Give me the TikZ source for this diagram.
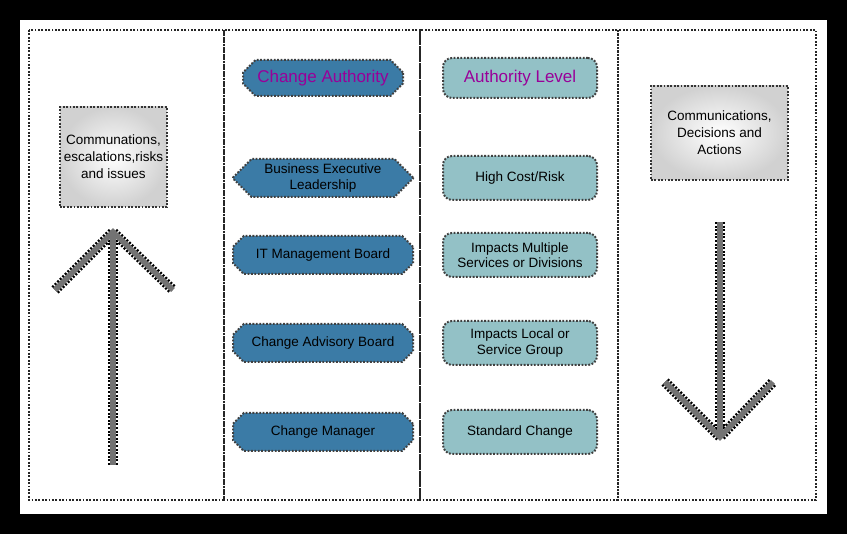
\documentclass[tikz,border=0pt]{standalone}
\usepackage{fontspec}
\setmainfont{Liberation Sans}
\usetikzlibrary{shapes.misc}
\definecolor{hexblue}{HTML}{3B7BA6}
\definecolor{teal2}{HTML}{93C1C6}
\begin{document}
\begin{tikzpicture}[x=1pt,y=-1pt,
  dots/.style={dash pattern=on 1.8pt off 1.6pt},
  col/.style={draw=black!85,line width=2.2pt,dots},
  hex/.style={chamfered rectangle,chamfered rectangle xsep=2cm,fill=hexblue,draw=black!75,line width=2pt,dots,minimum width=180pt,minimum height=38pt,inner sep=1pt,align=center,font=\fontsize{13.5}{15.5}\selectfont},
  lev/.style={rounded corners=9pt,fill=teal2,draw=black!75,line width=2pt,dots,minimum width=154pt,minimum height=44pt,align=center,font=\fontsize{13.5}{15.5}\selectfont},
  gbox/.style={inner color=white,outer color=black!18,draw=black!80,line width=2.6pt,dots,align=center,font=\fontsize{13.5}{17}\selectfont},
  arrbk/.style={line width=10pt,draw=black,dash pattern=on 2pt off 1.6pt},
  arrgr/.style={line width=5.5pt,draw=black!55,line join=miter}]
\fill[black] (0,0) rectangle (847,534);
\fill[white] (20,20) rectangle (827,514);
\draw[col] (29,30) rectangle (224,500);
\draw[col] (224,30) rectangle (420,500);
\draw[col] (420,30) rectangle (618,500);
\draw[col] (618,30) rectangle (816,500);
\node[hex,minimum width=160pt,minimum height=36pt,font=\fontsize{17}{19}\selectfont,text=violet!80!magenta] (ca) at (323,78) {Change Authority};
\node[hex] (be) at (323,178) {Business Executive\\Leadership};
\node[hex] (it) at (323,255) {IT Management Board};
\node[hex] (cab) at (323,343) {Change Advisory Board};
\node[hex] (cm) at (323,432) {Change Manager};
\node[lev,minimum height=40pt,font=\fontsize{17}{19}\selectfont,text=violet!80!magenta] (al) at (520,78) {Authority Level};
\node[lev] (hc) at (520,178) {High Cost/Risk};
\node[lev] (im) at (520,255) {Impacts Multiple\\Services or Divisions};
\node[lev] (il) at (520,343) {Impacts Local or\\Service Group};
\node[lev] (sc) at (520,432) {Standard Change};
\node[gbox,minimum width=107pt,minimum height=100pt] (lb) at (113.5,157) {Communations,\\escalations,risks\\and issues};
\node[gbox,minimum width=137pt,minimum height=94pt] (rb) at (719.5,133) {Communications,\\Decisions and\\Actions};
\coordinate (ut) at (113,232); \coordinate (ub) at (113,465);
\coordinate (ul) at (55,290); \coordinate (ur) at (173,290);
\coordinate (dt) at (720,222); \coordinate (db) at (720,437);
\coordinate (dl) at (665,382); \coordinate (dr) at (773,382);
\foreach \s in {arrbk,arrgr}{
  \draw[\s] (ub) -- (ut);
  \draw[\s] (ul) -- (ut) -- (ur);
  \draw[\s] (dt) -- (db);
  \draw[\s] (dl) -- (db) -- (dr);
}
\end{tikzpicture}
\end{document}
